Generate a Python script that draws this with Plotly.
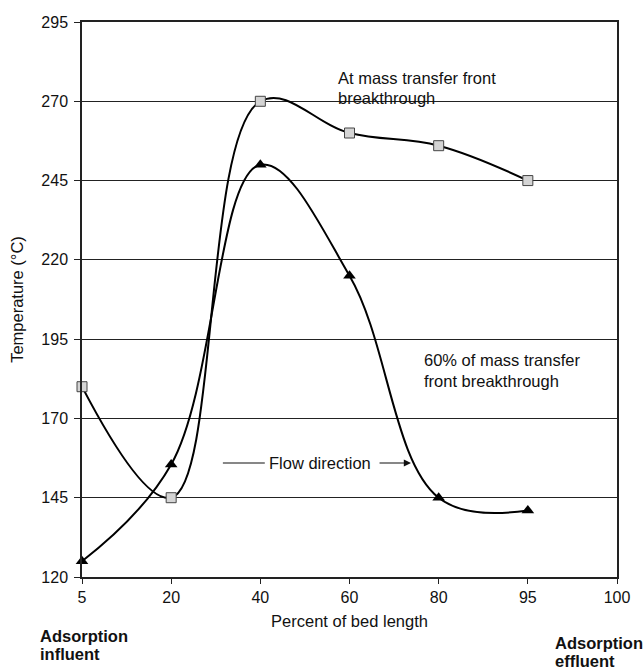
import plotly.graph_objects as go

categories = ["5", "20", "40", "60", "80", "95", "100"]
breakthrough_full = [180, 145, 270, 260, 256, 245]
breakthrough_60 = [125, 155.5, 250, 215, 145, 141]
y_ticks = [120, 145, 170, 195, 220, 245, 270, 295]

xpos = list(range(len(categories)))
FONT = "Liberation Sans, Arial, sans-serif"
TXT = 16.5

fig = go.Figure()
fig.add_trace(go.Scatter(
    x=xpos[:len(breakthrough_full)], y=breakthrough_full, mode="lines+markers",
    line=dict(color="black", width=2, shape="spline", smoothing=1.1),
    marker=dict(symbol="square", size=10, color="#d4d4d4", line=dict(color="#444", width=1)),
    name="At mass transfer front breakthrough", showlegend=False, cliponaxis=False,
))
fig.add_trace(go.Scatter(
    x=xpos[:len(breakthrough_60)], y=breakthrough_60, mode="lines+markers",
    line=dict(color="black", width=2, shape="spline", smoothing=1.1),
    marker=dict(symbol="triangle-up", size=11, color="black"),
    name="60% of mass transfer front breakthrough", showlegend=False, cliponaxis=False,
))


def txt(x, y, s, xref="x", yref="y", xanchor="left", bold=False):
    return dict(x=x, y=y, xref=xref, yref=yref, xanchor=xanchor, yanchor="middle", showarrow=False,
                text=f"<b>{s}</b>" if bold else s, font=dict(size=TXT, color="#111", family=FONT))


ann = [
    txt(2.849, 277.35, "At mass transfer front"),
    txt(2.849, 271.0, "breakthrough"),
    txt(3.813, 188.4, "60% of mass transfer"),
    txt(3.813, 181.8, "front breakthrough"),
    txt(2.669, 155.95, "Flow direction", xanchor="center"),
    dict(x=3.69, y=155.95, ax=3.32, ay=155.95, xref="x", yref="y", axref="x", ayref="y",
         text="", showarrow=True, arrowhead=2, arrowsize=1.2, arrowwidth=1.2, arrowcolor="#111"),
    txt(-0.0822, -0.1063, "Adsorption", xref="paper", yref="paper", bold=True),
    txt(-0.0822, -0.1387, "influent", xref="paper", yref="paper", bold=True),
    txt(0.8804, -0.1189, "Adsorption", xref="paper", yref="paper", bold=True),
    txt(0.8804, -0.1514, "effluent", xref="paper", yref="paper", bold=True),
]

fig.update_layout(
    width=644, height=670,
    margin=dict(l=82, r=27, t=22, b=93),
    paper_bgcolor="white", plot_bgcolor="white",
    font=dict(family=FONT, size=TXT, color="#111"),
    annotations=ann,
    shapes=[dict(type="line", xref="x", yref="y", x0=1.58, x1=2.05, y0=155.95, y1=155.95,
                 line=dict(color="#111", width=1.2))],
)
fig.update_xaxes(
    range=[0, 6], tickmode="array", tickvals=xpos, ticktext=categories,
    showgrid=False, zeroline=False, showline=True, linecolor="#222", linewidth=1.5, mirror=True,
    ticks="outside", ticklen=5, tickcolor="#222", tickfont=dict(size=16),
    title=dict(text="Percent of bed length", font=dict(size=TXT), standoff=10),
)
fig.update_yaxes(
    range=[120, 295], tickmode="array", tickvals=y_ticks,
    showgrid=True, gridcolor="#222", gridwidth=1.2, zeroline=False,
    showline=True, linecolor="#222", linewidth=1.5, mirror=True,
    ticks="outside", ticklen=6, tickcolor="#222", tickfont=dict(size=16), ticklabelstandoff=3,
    title=dict(text="Temperature (°C)", font=dict(size=TXT), standoff=14),
)

fig.write_html("out.html")
